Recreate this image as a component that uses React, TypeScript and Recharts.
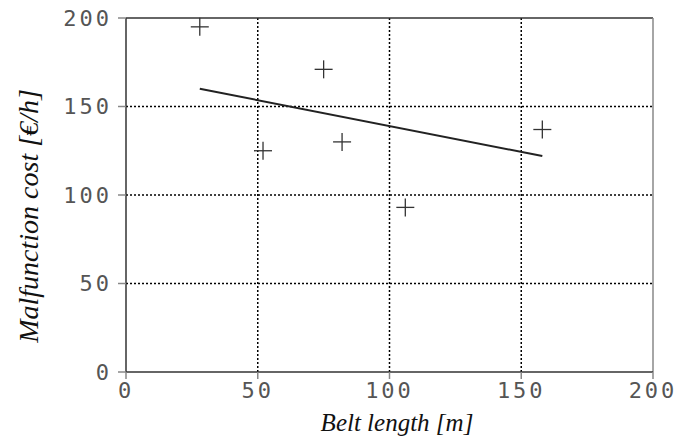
import {
  ScatterChart,
  Scatter,
  XAxis,
  YAxis,
  CartesianGrid,
  ReferenceLine,
} from "recharts";

const beltLength = [28, 52, 75, 82, 106, 158];
const malfunctionCost = [195, 125, 171, 130, 93, 137];

const trendX = [28, 158];
const trendY = [160, 122];

const xTicks = [0, 50, 100, 150, 200];
const yTicks = [0, 50, 100, 150, 200];

const points = beltLength.map((x, i) => ({ x, y: malfunctionCost[i] }));
const trend = trendX.map((x, i) => ({ x, y: trendY[i] }));

const tickFont = {
  fontFamily: "'DejaVu Sans Mono', monospace",
  fontSize: 22,
  fill: "#555",
  letterSpacing: 3,
};

const Cross = (props: any) => {
  const { cx, cy } = props;
  const s = 9;
  return (
    <g stroke="#333" strokeWidth={1.3}>
      <line x1={cx - s} y1={cy} x2={cx + s} y2={cy} />
      <line x1={cx} y1={cy - s} x2={cx} y2={cy + s} />
    </g>
  );
};

const Nothing = () => null;

const XTick = (props: any) => {
  const { x, y, payload } = props;
  return (
    <text x={x} y={y} dy="0.8em" textAnchor="middle" {...tickFont}>
      {payload.value}
    </text>
  );
};

const YTick = (props: any) => {
  const { x, y, payload } = props;
  return (
    <text x={x} y={y} dy="0.36em" textAnchor="end" {...tickFont}>
      {payload.value}
    </text>
  );
};

const labelFont = {
  fontFamily: "'Liberation Serif', 'Times New Roman', serif",
  fontStyle: "italic",
  fill: "#111",
};

export default function App() {
  return (
    <div style={{ position: "absolute", left: 0, top: 0, background: "#fff" }}>
      <ScatterChart
        width={691}
        height={439}
        margin={{ top: 18, right: 38, left: 0, bottom: 0 }}
      >
        <CartesianGrid
          stroke="#000"
          strokeWidth={1.5}
          strokeDasharray="2 2"
          horizontalValues={[50, 100, 150]}
          verticalValues={[50, 100, 150]}
        />
        <XAxis
          type="number"
          dataKey="x"
          domain={[0, 200]}
          ticks={xTicks}
          height={67}
          tickSize={7}
          tickMargin={1}
          tickLine={{ stroke: "#888", strokeWidth: 1.5 }}
          axisLine={{ stroke: "#333", strokeWidth: 1.5 }}
          tick={<XTick />}
          label={{
            content: () => (
              <text
                x={397}
                y={431}
                textAnchor="middle"
                fontSize={25}
                {...labelFont}
              >
                Belt length [m]
              </text>
            ),
          }}
        />
        <YAxis
          type="number"
          dataKey="y"
          domain={[0, 200]}
          ticks={yTicks}
          width={126}
          tickSize={8}
          tickMargin={6}
          tickLine={{ stroke: "#888", strokeWidth: 1.5 }}
          axisLine={{ stroke: "#333", strokeWidth: 1.5 }}
          tick={<YTick />}
          label={{
            content: () => (
              <text
                x={38}
                y={216}
                textAnchor="middle"
                fontSize={28}
                transform="rotate(-90 38 216)"
                {...labelFont}
              >
                Malfunction cost [€/h]
              </text>
            ),
          }}
        />
        <ReferenceLine y={200} stroke="#333" strokeWidth={1.5} />
        <ReferenceLine x={200} stroke="#888" strokeWidth={1.5} />
        <Scatter
          data={trend}
          line={{ stroke: "#222", strokeWidth: 2 }}
          shape={<Nothing />}
          isAnimationActive={false}
        />
        <Scatter data={points} shape={<Cross />} isAnimationActive={false} />
      </ScatterChart>
    </div>
  );
}
